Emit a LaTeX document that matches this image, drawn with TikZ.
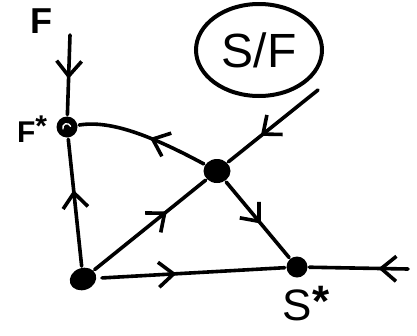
\documentclass[tikz,border=0pt]{standalone}
\usepackage{fontspec}
\setmainfont{Liberation Sans}
\usetikzlibrary{arrows.meta, decorations.markings, shapes.geometric}

\begin{document}
\begin{tikzpicture}[x=1pt, y=-1pt, line width=3.6pt, line cap=round,
    every node/.style={font=\bfseries\fontsize{36}{36}\selectfont},
    dot/.style={circle, fill, inner sep=0pt, minimum size=21pt},
    midarrow/.style={postaction={decorate, decoration={markings,
        mark=at position #1 with {\arrow{Straight Barb[length=15pt, width=25pt]}}}}}]

    \useasboundingbox (0,0) rectangle (417,335);

    % S/F label in ellipse
    \node[draw, ellipse, line width=4pt, minimum width=126pt, minimum height=92pt,
          font=\fontsize{48}{48}\selectfont] (title) at (259,50) {S/F};

    % fixed points
    \node[dot, ellipse, minimum width=27pt, minimum height=22pt, rotate=20] (origin) at (83,279) {};
    \node[dot, ellipse, minimum width=27pt, minimum height=24pt] (saddle) at (217,171) {};
    \node[dot] (fstar) at (67,127) {};
    \node[dot] (sstar) at (297,267) {};
    \draw[white, line width=1.4pt] ([shift={(-4,2)}]fstar.center) arc[start angle=200, end angle=20, radius=4pt];

    % labels
    \node (flabel) at (41,21) {F};
    \node[font=\bfseries\fontsize{30}{30}\selectfont] (fstarlabel) at (32,129) {F\raisebox{6pt}{*}};
    \node[font=\fontsize{44}{44}\selectfont] (sstarlabel) at (306,304) {S\raisebox{4pt}{\bfseries *}};

    % free ends
    \coordinate (fin) at (70,35);
    \coordinate (ne) at (318,90);
    \coordinate (east) at (408,269);

    % F axis
    \draw[midarrow=0.55] (fin) -- (fstar);
    \draw[midarrow=0.6] (origin) -- (fstar);

    % diagonal through saddle
    \draw[midarrow=0.65] (origin) -- (saddle);
    \draw[midarrow=0.64] (ne) -- (saddle);

    % unstable branches of saddle
    \draw[midarrow=0.45] (saddle) .. controls (150,135) and (110,120) .. (fstar);
    \draw[midarrow=0.55] (saddle) -- (sstar);

    % S axis
    \draw[midarrow=0.42, shorten <=4pt] (origin) -- (sstar);
    \draw[midarrow=0.3] (east) -- (sstar);

\end{tikzpicture}
\end{document}
